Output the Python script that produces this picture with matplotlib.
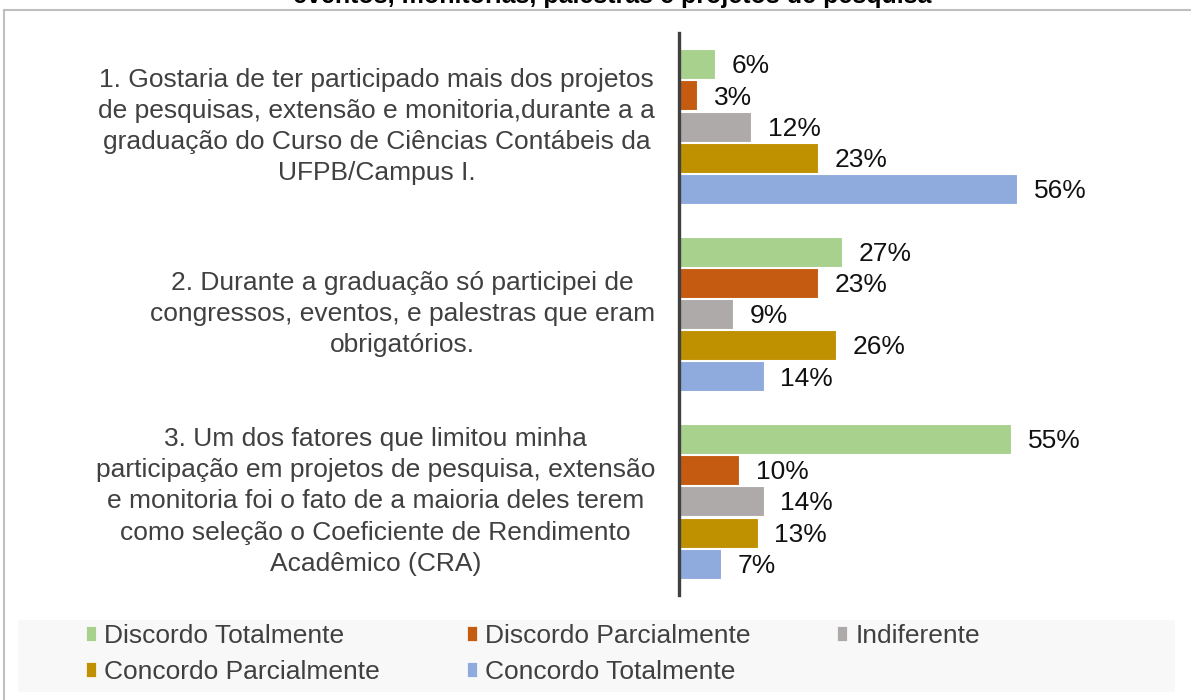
import numpy as np
import matplotlib.pyplot as plt
from matplotlib.patches import Patch, Rectangle
from matplotlib.lines import Line2D
from matplotlib.transforms import blended_transform_factory

plt.rcParams['font.family'] = ['Liberation Sans', 'DejaVu Sans']

title_line = "eventos, monitorias, palestras e projetos de pesquisa"

questions = [
    "1. Gostaria de ter participado mais dos projetos\nde pesquisas, extensão e monitoria,durante a a\ngraduação do Curso de Ciências Contábeis da\nUFPB/Campus I.",
    "2. Durante a graduação só participei de\ncongressos, eventos, e palestras que eram\nobrigatórios.",
    "3. Um dos fatores que limitou minha\nparticipação em projetos de pesquisa, extensão\ne monitoria foi o fato de a maioria deles terem\ncomo seleção o Coeficiente de Rendimento\nAcadêmico (CRA)",
]

answers = ["Discordo Totalmente", "Discordo Parcialmente", "Indiferente",
           "Concordo Parcialmente", "Concordo Totalmente"]
colors = ["#A9D18E", "#C55A11", "#AEAAAA", "#BF9000", "#8FAADC"]

# percentages per answer, one value per question
discordo_total = [6, 27, 55]
discordo_parcial = [3, 23, 10]
indiferente = [12, 9, 14]
concordo_parcial = [23, 26, 13]
concordo_total = [56, 14, 7]
series = [discordo_total, discordo_parcial, indiferente, concordo_parcial, concordo_total]

W, H = 1191, 700
fig = plt.figure(figsize=(W / 100, H / 100), dpi=100)

# outer frame (top and left edges visible)
fig.add_artist(Line2D([4 / W, 1], [1 - 10 / H, 1 - 10 / H], transform=fig.transFigure,
                      color="#BFBFBF", lw=1.5))
fig.add_artist(Line2D([4 / W, 4 / W], [0, 1 - 10 / H], transform=fig.transFigure,
                      color="#BFBFBF", lw=1.5))

# cropped title line at the very top
fig.text(612 / W, 1 - 3 / H, title_line, ha="center", va="baseline",
         fontsize=18, fontweight="bold", color="#000000")

ax = fig.add_axes([679 / W, 1 - 595 / H, (1150 - 679) / W, 562 / H])

n_q = len(questions)
for j, (vals, col) in enumerate(zip(series, colors)):
    ys = [i * 6 + 1 + j for i in range(n_q)]
    ax.barh(ys, vals, height=0.96, color=col, edgecolor="white", linewidth=0.8)
    for y, v in zip(ys, vals):
        ax.annotate(f"{v}%", (v, y), xytext=(12, -1.5), textcoords="offset points",
                    ha="left", va="center", fontsize=19, color="#111111")

ax.set_xlim(0, 78)
ax.set_ylim(18, 0)
ax.set_xticks([])
ax.set_yticks([])
for s in ["top", "right", "bottom"]:
    ax.spines[s].set_visible(False)
ax.spines["left"].set_color("#404040")
ax.spines["left"].set_linewidth(2.4)

trans = blended_transform_factory(fig.transFigure, ax.transData)
for i, q in enumerate(questions):
    ax.text(655 / W, i * 6 + 3, q, transform=trans, ha="right", va="center",
            multialignment="center", fontsize=19, color="#404040", linespacing=1.38)

# legend background
fig.add_artist(Rectangle((18 / W, 1 - 692 / H), (1175 - 18) / W, 72 / H,
                         transform=fig.transFigure, facecolor="#F8F8F8",
                         edgecolor="none", zorder=0))

handles = [Patch(facecolor=c, edgecolor="white", linewidth=0.5) for c in colors]
order = [0, 3, 1, 4, 2]
fig.legend([handles[k] for k in order], [answers[k] for k in order],
           loc="center left", bbox_to_anchor=(86 / W, 1 - 654 / H), ncol=3,
           frameon=False, fontsize=19, labelcolor="#404040",
           handlelength=0.38, handleheight=0.5, handletextpad=0.3,
           columnspacing=3.3, labelspacing=0.45, borderpad=0, borderaxespad=0)

fig.savefig("out.png", dpi=100)
